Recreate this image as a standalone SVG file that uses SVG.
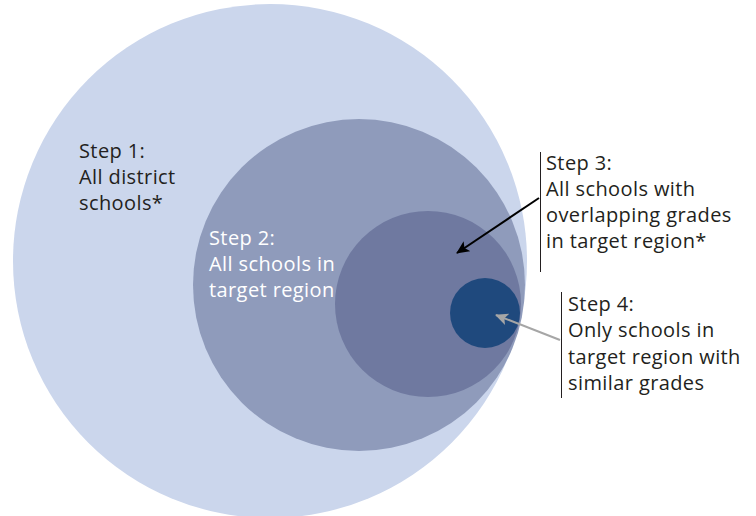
<svg xmlns="http://www.w3.org/2000/svg" width="756" height="516" viewBox="0 0 756 516">
<style>
text{font-family:"Open Sans","Liberation Sans",sans-serif;font-size:20px;letter-spacing:0.4px}
.dark{fill:#231f20}
.light{fill:#ffffff}
</style>
<defs>
<marker id="ah" markerWidth="13" markerHeight="12" refX="12" refY="6" orient="auto" markerUnits="userSpaceOnUse"><path d="M0,0 L13,6 L0,12 L3,6 Z" fill="#000"/></marker>
<marker id="ahg" markerWidth="13" markerHeight="12" refX="12" refY="6" orient="auto" markerUnits="userSpaceOnUse"><path d="M0,0 L13,6 L0,12 L3,6 Z" fill="#a6a6a6"/></marker>
</defs>
<rect width="756" height="516" fill="#fff"/>
<g id="step1"><circle cx="270" cy="261" r="257" fill="#cbd6ec"/>
<text class="dark" x="79" y="158">Step 1:</text><text class="dark" x="79" y="184">All district</text><text class="dark" x="79" y="210">schools*</text></g>
<g id="step2"><circle cx="359" cy="285" r="166" fill="#8f9bbb"/>
<text class="light" x="209" y="245">Step 2:</text><text class="light" x="209" y="271">All schools in</text><text class="light" x="209" y="297">target region</text></g>
<g id="step3"><circle cx="428" cy="304" r="93" fill="#6f79a0"/>
<line x1="540.5" y1="152" x2="540.5" y2="272" stroke="#231f20" stroke-width="1"/>
<text class="dark" x="546" y="170">Step 3:</text><text class="dark" x="546" y="196">All schools with</text><text class="dark" x="546" y="222">overlapping grades</text><text class="dark" x="546" y="248">in target region*</text></g>
<g id="step4"><circle cx="485" cy="313" r="35" fill="#1f497d"/>
<line x1="561.5" y1="292" x2="561.5" y2="398" stroke="#231f20" stroke-width="1"/>
<text class="dark" x="568" y="311">Step 4:</text><text class="dark" x="568" y="337">Only schools in</text><text class="dark" x="568" y="364">target region with</text><text class="dark" x="568" y="390">similar grades</text></g>
<g id="connectors">
<line x1="539" y1="198" x2="457" y2="253" stroke="#000" stroke-width="2" marker-end="url(#ah)"/>
<line x1="560" y1="340" x2="496" y2="315" stroke="#a6a6a6" stroke-width="2" marker-end="url(#ahg)"/>
</g>
</svg>
